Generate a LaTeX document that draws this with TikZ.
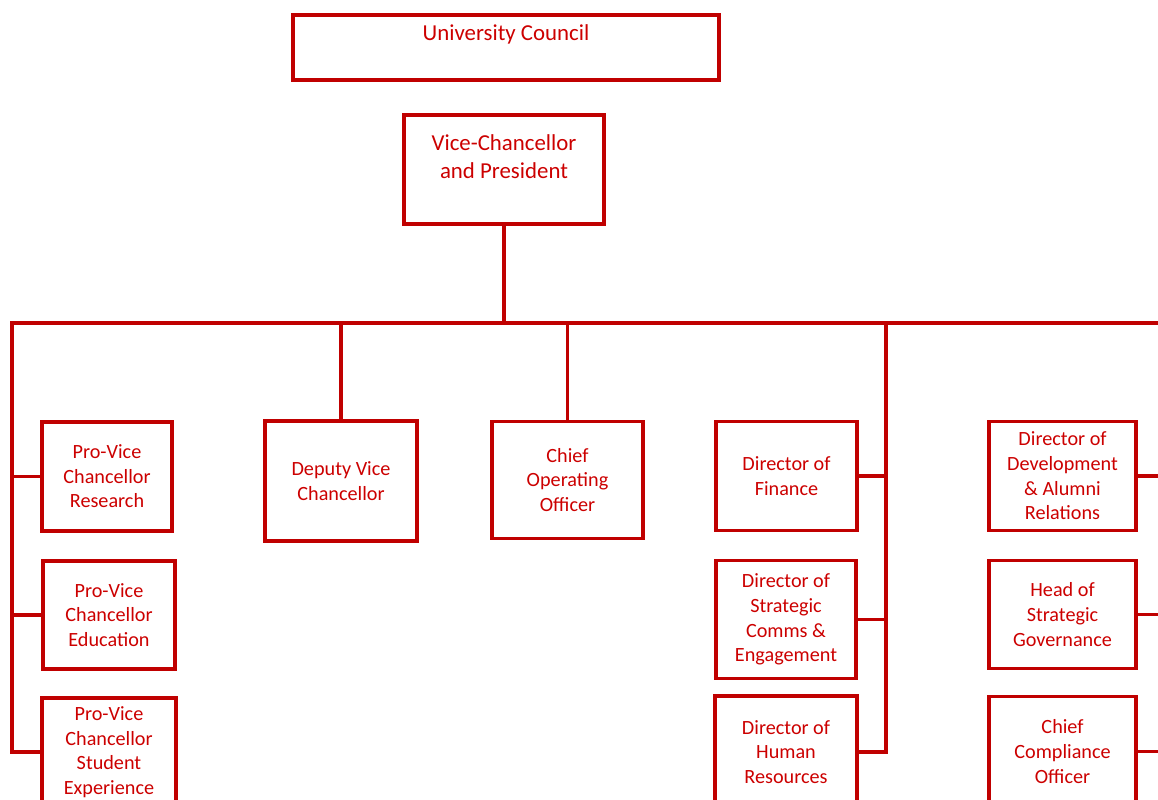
\documentclass[tikz,border=0pt]{standalone}
\usepackage{fontspec}
\setmainfont{Carlito}
\usepackage{xcolor}
\usepackage{tikz}
\definecolor{frame}{HTML}{C00000}
\definecolor{ink}{HTML}{CC0000}
\tikzset{
  link/.style={draw=frame, line width=2pt},
  head/.style={draw=frame, line width=2pt},
  headtxt/.style={text=ink, align=center, anchor=north, font=\fontsize{13}{16}\selectfont},
  post/.style={draw=frame, line width=2pt, text=ink, align=center, inner sep=2pt,
    font=\fontsize{11.5}{14}\selectfont}
}

\begin{document}
\begin{tikzpicture}[x=0.02cm, y=-0.02cm]
  \useasboundingbox (0,0) rectangle (1158,800);
  \clip (0,0) rectangle (1158,800);

  \coordinate (busL) at (12,323);
  \coordinate (busR) at (1175,323);
  \coordinate (midT) at (886,323);

  \node[head, minimum width=8.52cm, minimum height=1.3cm,
    label={[headtxt, yshift=-3pt]north:University Council}] (uc) at (506,47.5) {};
  \node[head, minimum width=4cm, minimum height=2.18cm,
    label={[headtxt, yshift=-8.5pt]north:{Vice-Chancellor\\and President}}] (vc) at (504,169.5) {};

  \node[post, minimum width=2.6cm, minimum height=2.18cm] (pvcr) at (107,476.5) {Pro-Vice\\Chancellor\\Research};
  \node[post, minimum width=2.64cm, minimum height=2.16cm] (pvce) at (109,615) {Pro-Vice\\Chancellor\\Education};
  \node[post, minimum width=2.68cm, minimum height=2.16cm] (pvcs) at (109,752) {Pro-Vice\\Chancellor\\Student\\Experience};

  \node[post, minimum width=3.04cm, minimum height=2.4cm] (dvc) at (341,481) {Deputy Vice\\Chancellor};
  \node[post, minimum width=3.02cm, minimum height=2.34cm] (coo) at (567.5,480) {Chief\\Operating\\Officer};

  \node[post, minimum width=2.82cm, minimum height=2.18cm] (fin) at (786.5,476) {Director of\\Finance};
  \node[post, minimum width=2.8cm, minimum height=2.36cm] (comms) at (786,619.5) {Director of\\Strategic\\Comms \&\\Engagement};
  \node[post, minimum width=2.84cm, minimum height=2.24cm] (hr) at (786,752) {Director of\\Human\\Resources};

  \node[post, minimum width=2.94cm, minimum height=2.18cm] (dev) at (1062.5,476) {Director of\\Development\\\& Alumni\\Relations};
  \node[post, minimum width=2.94cm, minimum height=2.16cm] (gov) at (1062.5,614.5) {Head of\\Strategic\\Governance};
  \node[post, minimum width=2.94cm, minimum height=2.2cm] (cco) at (1062.5,751.5) {Chief\\Compliance\\Officer};

  \draw[link] (vc.south) -- (vc.south |- busL);
  \draw[link] (pvcs.west) -- (pvcs.west -| busL) -- (busL) -- (busR);
  \draw[link] (pvcr.west) -- (pvcr.west -| busL);
  \draw[link] (pvce.west) -- (pvce.west -| busL);
  \draw[link] (dvc.north) -- (dvc.north |- busL);
  \draw[link] (coo.north) -- (coo.north |- busL);
  \draw[link] (midT) -- (hr.east -| midT) -- (hr.east);
  \draw[link] (fin.east) -- (fin.east -| midT);
  \draw[link] (comms.east) -- (comms.east -| midT);
  \draw[link] (dev.east) -- (dev.east -| busR);
  \draw[link] (gov.east) -- (gov.east -| busR);
  \draw[link] (cco.east) -- (cco.east -| busR);
\end{tikzpicture}
\end{document}
